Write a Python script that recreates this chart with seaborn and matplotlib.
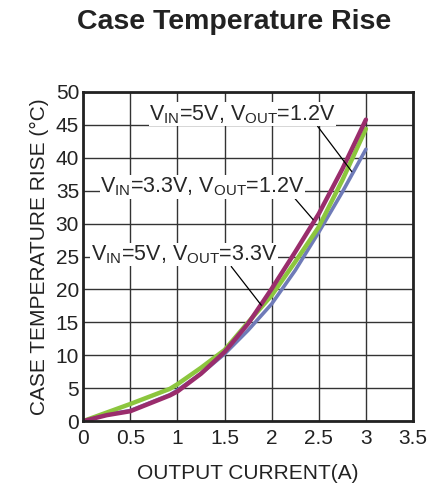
import numpy as np
import pandas as pd
import matplotlib.pyplot as plt
import seaborn as sns

# Values
current = [0, 0.25, 0.5, 0.92, 1.0, 1.25, 1.5, 1.75, 2.0, 2.25, 2.5, 2.75, 3.0]
rise_5v_1v2 = [0, 0.9, 1.5, 3.9, 4.5, 7.2, 10.5, 14.8, 20.1, 25.7, 31.5, 38.3, 45.8]
rise_3v3_1v2 = [0, 1.3, 2.6, 4.9, 5.6, 8.1, 10.8, 15.0, 19.1, 24.2, 29.5, 36.6, 44.4]
rise_5v_3v3 = [0, 1.0, 1.6, 4.0, 4.7, 7.2, 10.2, 13.8, 17.8, 22.9, 28.7, 34.8, 41.3]

series_names = ["5V_1.2V", "3.3V_1.2V", "5V_3.3V"]
colors = {"5V_1.2V": "#9a2d6c", "3.3V_1.2V": "#8cc63e", "5V_3.3V": "#6f7bb8"}

df = pd.DataFrame({
    "Current": current * 3,
    "Rise": rise_5v_1v2 + rise_3v3_1v2 + rise_5v_3v3,
    "Series": [s for s in series_names for _ in current],
})

sns.set_style("white")
plt.rcParams["font.family"] = ["Liberation Sans", "DejaVu Sans"]
plt.rcParams["mathtext.fontset"] = "custom"
plt.rcParams["mathtext.rm"] = "Liberation Sans"

fig = plt.figure(figsize=(4.38, 4.84), dpi=100)
ax = fig.add_axes([0.19, 0.13, 0.753, 0.68])

# draw blue first so the others sit on top
for name in ["5V_3.3V", "3.3V_1.2V", "5V_1.2V"]:
    sns.lineplot(
        data=df[df["Series"] == name], x="Current", y="Rise",
        color=colors[name], linewidth=3.2 if name != "5V_3.3V" else 2.6,
        ax=ax, legend=False,
    )

ax.set_xlim(0, 3.5)
ax.set_ylim(0, 50)
ax.set_xticks(np.arange(0, 3.51, 0.5))
ax.set_yticks(np.arange(0, 51, 5))
ax.set_xticklabels(["0", "0.5", "1", "1.5", "2", "2.5", "3", "3.5"])
ax.tick_params(labelsize=15, length=3, width=1, direction="out", pad=0, colors="#222222")
ax.tick_params(axis="x", pad=3)
ax.grid(True, color="#333333", linewidth=1)
ax.set_axisbelow(True)
for sp in ax.spines.values():
    sp.set_linewidth(2)
    sp.set_color("#222222")

ax.set_xlabel("OUTPUT CURRENT(A)", fontsize=15, labelpad=11, color="#222222")
ax.set_ylabel("CASE TEMPERATURE RISE (°C)", fontsize=15, labelpad=5, color="#222222")
fig.text(0.535, 0.955, "Case Temperature Rise", fontsize=20.5, fontweight="bold",
         ha="center", va="center", color="#222222")

box = dict(facecolor="white", edgecolor="none", pad=0.5)
ax.annotate(r"V$_\mathrm{IN}$=5V, V$_\mathrm{OUT}$=1.2V", xy=(2.85, 37.9), xytext=(0.7, 46.6),
            fontsize=15.5, bbox=box, va="center",
            arrowprops=dict(arrowstyle="-", color="black", lw=0.9, shrinkA=0, shrinkB=0,
                            relpos=(0.9, 0.0)))
ax.annotate(r"V$_\mathrm{IN}$=3.3V, V$_\mathrm{OUT}$=1.2V", xy=(2.44, 30.6), xytext=(0.18, 35.6),
            fontsize=15.5, bbox=box, va="center",
            arrowprops=dict(arrowstyle="-", color="black", lw=0.9, shrinkA=0, shrinkB=0,
                            relpos=(0.95, 0.0)))
ax.annotate(r"V$_\mathrm{IN}$=5V, V$_\mathrm{OUT}$=3.3V", xy=(1.89, 17.6), xytext=(0.08, 25.3),
            fontsize=15.5, bbox=box, va="center",
            arrowprops=dict(arrowstyle="-", color="black", lw=0.9, shrinkA=0, shrinkB=0,
                            relpos=(0.75, 0.0)))

fig.savefig("out.png", dpi=100)
